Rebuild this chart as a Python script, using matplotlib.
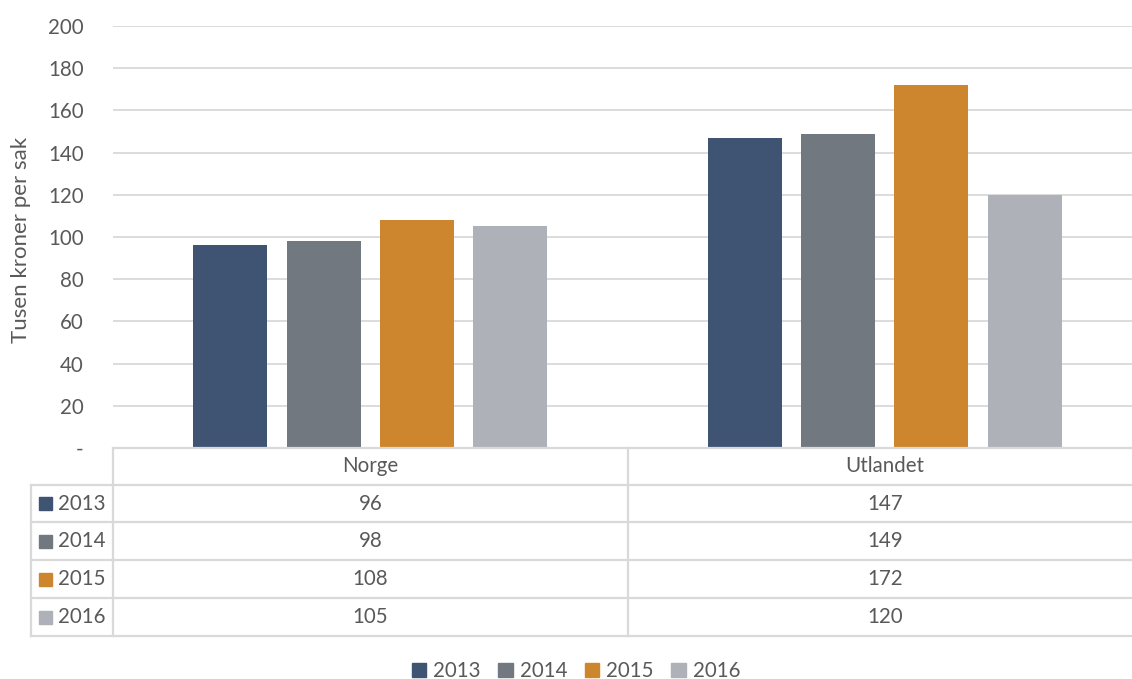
import matplotlib
matplotlib.use("Agg")
import matplotlib.pyplot as plt
from matplotlib.patches import Rectangle
from matplotlib.lines import Line2D
import numpy as np

categories = ["Norge", "Utlandet"]
years = ["2013", "2014", "2015", "2016"]
values_2013 = [96, 147]
values_2014 = [98, 149]
values_2015 = [108, 172]
values_2016 = [105, 120]
series = [values_2013, values_2014, values_2015, values_2016]
colors = ["#3F5373", "#72787F", "#CD862D", "#AEB2B8"]
yticks = [0, 20, 40, 60, 80, 100, 120, 140, 160, 180, 200]
ytick_labels = ["-"] + [str(v) for v in yticks[1:]]

plt.rcParams['font.family'] = ['Lato', 'DejaVu Sans']
TXT = "#595959"
GRID = "#D9D9D9"
FS = 14.8

W, H = 1132, 679
fig = plt.figure(figsize=(W / 100, H / 100), dpi=100)

def fx(px): return px / W
def fy(py): return 1 - py / H

ax_left, ax_right = 113, 1142
ax_top, ax_bot = 26, 448
ax_w = ax_right - ax_left
ax = fig.add_axes([fx(ax_left), fy(ax_bot), fx(ax_right) - fx(ax_left), fy(ax_top) - fy(ax_bot)])
ax.set_xlim(0, len(categories))
ax.set_ylim(0, 200)
ax.set_yticks(yticks)
ax.set_yticklabels(ytick_labels, color=TXT, fontsize=FS)
ax.tick_params(axis='y', length=0, pad=21)
ax.set_xticks([])
for s in ax.spines.values():
    s.set_visible(False)
ax.grid(axis='y', color=GRID, linewidth=1.3)
ax.set_axisbelow(True)
ax.set_ylabel("Tusen kroner per sak", color=TXT, fontsize=16, va='center')
ax.yaxis.set_label_coords((21 - ax_left) / ax_w, (448 - 240) / (ax_bot - ax_top))

spacing = 0.1814
width = 0.1438
for i, (vals, c) in enumerate(zip(series, colors)):
    x = np.arange(len(categories)) + 0.5 + (i - 1.5) * spacing
    ax.bar(x, vals, width=width, color=c, zorder=3)

# Data table drawn manually
row_edges = [448, 485, 522, 560, 598, 636]
col_edges = [31, 113, 628, 1142]
lw = 1.6
def hline(y, x0, x1):
    fig.add_artist(Line2D([fx(x0), fx(x1)], [fy(y), fy(y)], color=GRID, lw=lw))
def vline(x, y0, y1):
    fig.add_artist(Line2D([fx(x), fx(x)], [fy(y0), fy(y1)], color=GRID, lw=lw))

hline(row_edges[0], col_edges[1], col_edges[3])
for y in row_edges[1:]:
    hline(y, col_edges[0], col_edges[3])
vline(col_edges[0], row_edges[1], row_edges[-1])
vline(col_edges[1], row_edges[0], row_edges[-1])
vline(col_edges[2], row_edges[0], row_edges[-1])

for j, cat in enumerate(categories):
    cx = (col_edges[j + 1] + col_edges[j + 2]) / 2
    fig.text(fx(cx), fy((row_edges[0] + row_edges[1]) / 2), cat, ha='center', va='center',
             color=TXT, fontsize=FS)
for i, (yr, vals, c) in enumerate(zip(years, series, colors)):
    cy = (row_edges[i + 1] + row_edges[i + 2]) / 2
    fig.add_artist(Rectangle((fx(39), fy(cy + 6.5)), fx(13), fy(0) - fy(13), color=c,
                             transform=fig.transFigure))
    fig.text(fx(58), fy(cy), yr, ha='left', va='center', color=TXT, fontsize=FS)
    for j, v in enumerate(vals):
        cx = (col_edges[j + 1] + col_edges[j + 2]) / 2
        fig.text(fx(cx), fy(cy), str(v), ha='center', va='center', color=TXT, fontsize=FS)

# Legend
handles = [Rectangle((0, 0), 1, 1, color=c) for c in colors]
fig.legend(handles, years, loc='center', bbox_to_anchor=(fx(576), fy(671)), ncol=4,
           frameon=False, fontsize=FS, labelcolor=TXT, handlelength=0.7, handleheight=0.7,
           handletextpad=0.35, columnspacing=0.85)

fig.savefig("out.png", dpi=100)
